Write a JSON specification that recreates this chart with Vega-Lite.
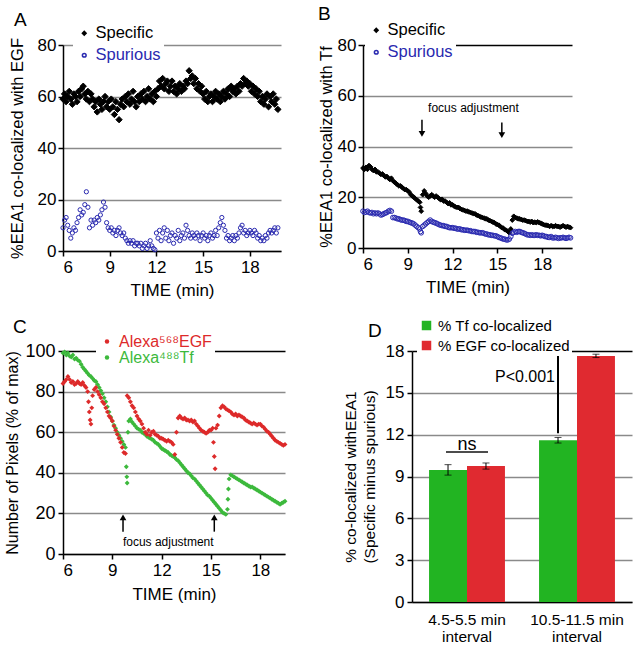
{
"$schema": "https://vega.github.io/schema/vega-lite/v6.json",
"padding": {"left": 4, "top": 5, "right": 5, "bottom": 5},
"background": "white",
"config": {
  "font": "Liberation Sans",
  "view": {"stroke": null},
  "axis": {"domainColor": "black", "domainWidth": 1.5, "tickColor": "black", "tickWidth": 1.5, "tickSize": 5, "labelFontSize": 17, "labelColor": "black", "titleFontSize": 17, "titleFontWeight": "normal", "titleColor": "black", "gridColor": "#8a8a8a", "gridWidth": 1.3, "labelPadding": 3, "titlePadding": 9, "labelFont": "Liberation Sans", "titleFont": "Liberation Sans"},
  "title": {"fontSize": 19, "fontWeight": "normal", "anchor": "start", "frame": "bounds", "color": "black", "font": "Liberation Sans"},
  "legend": {"labelFont": "Liberation Sans", "labelLimit": 300}
},
"columns": 1,
"align": "none",
"spacing": 18,
"resolve": {"scale": {"color": "independent", "fill": "independent", "stroke": "independent", "shape": "independent"}, "legend": {"color": "independent", "fill": "independent", "stroke": "independent", "shape": "independent"}},
"datasets": {
"A": [
{"t":6.0,"Specific":59,"Spurious":9},{"t":6.1,"Specific":61,"Spurious":12},{"t":6.2,"Specific":58,"Spurious":13},{"t":6.3,"Specific":60,"Spurious":10},{"t":6.4,"Specific":62,"Spurious":8},{"t":6.5,"Specific":59,"Spurious":5},{"t":6.6,"Specific":57,"Spurious":7},{"t":6.7,"Specific":61,"Spurious":9},{"t":6.8,"Specific":60,"Spurious":8},{"t":6.9,"Specific":58,"Spurious":11},
{"t":7.0,"Specific":62,"Spurious":13},{"t":7.1,"Specific":60,"Spurious":16},{"t":7.2,"Specific":63,"Spurious":14},{"t":7.3,"Specific":64,"Spurious":15},{"t":7.4,"Specific":61,"Spurious":18},{"t":7.5,"Specific":59,"Spurious":23},{"t":7.6,"Specific":62,"Spurious":17},{"t":7.7,"Specific":58,"Spurious":9},{"t":7.8,"Specific":61,"Spurious":12},{"t":7.9,"Specific":59,"Spurious":10},
{"t":8.0,"Specific":56,"Spurious":12},{"t":8.1,"Specific":58,"Spurious":11},{"t":8.2,"Specific":54,"Spurious":13},{"t":8.3,"Specific":59,"Spurious":12},{"t":8.4,"Specific":57,"Spurious":14},{"t":8.5,"Specific":55,"Spurious":16},{"t":8.6,"Specific":58,"Spurious":19},{"t":8.7,"Specific":60,"Spurious":17},{"t":8.8,"Specific":56,"Spurious":11},{"t":8.9,"Specific":58,"Spurious":9},
{"t":9.0,"Specific":55,"Spurious":8},{"t":9.1,"Specific":59,"Spurious":9},{"t":9.2,"Specific":56,"Spurious":7},{"t":9.3,"Specific":53,"Spurious":8},{"t":9.4,"Specific":58,"Spurious":6},{"t":9.5,"Specific":55,"Spurious":8},{"t":9.6,"Specific":51,"Spurious":9},{"t":9.7,"Specific":57,"Spurious":7},{"t":9.8,"Specific":59,"Spurious":6},{"t":9.9,"Specific":56,"Spurious":7},
{"t":10.0,"Specific":60,"Spurious":5},{"t":10.1,"Specific":58,"Spurious":4},{"t":10.2,"Specific":61,"Spurious":3},{"t":10.3,"Specific":57,"Spurious":4},{"t":10.4,"Specific":59,"Spurious":3},{"t":10.5,"Specific":62,"Spurious":4},{"t":10.6,"Specific":58,"Spurious":2},{"t":10.7,"Specific":56,"Spurious":3},{"t":10.8,"Specific":60,"Spurious":3},{"t":10.9,"Specific":58,"Spurious":2},
{"t":11.0,"Specific":61,"Spurious":3},{"t":11.1,"Specific":59,"Spurious":1},{"t":11.2,"Specific":62,"Spurious":2},{"t":11.3,"Specific":58,"Spurious":3},{"t":11.4,"Specific":60,"Spurious":1},{"t":11.5,"Specific":63,"Spurious":2},{"t":11.6,"Specific":59,"Spurious":4},{"t":11.7,"Specific":61,"Spurious":2},{"t":11.8,"Specific":58,"Spurious":1},{"t":11.9,"Specific":62,"Spurious":0.5},
{"t":12.0,"Specific":60,"Spurious":7},{"t":12.1,"Specific":63,"Spurious":5},{"t":12.2,"Specific":66,"Spurious":8},{"t":12.3,"Specific":64,"Spurious":4},{"t":12.4,"Specific":67,"Spurious":7},{"t":12.5,"Specific":63,"Spurious":9},{"t":12.6,"Specific":65,"Spurious":5},{"t":12.7,"Specific":66,"Spurious":8},{"t":12.8,"Specific":62,"Spurious":4},{"t":12.9,"Specific":64,"Spurious":6},
{"t":13.0,"Specific":66,"Spurious":7},{"t":13.1,"Specific":62,"Spurious":3},{"t":13.2,"Specific":64,"Spurious":6},{"t":13.3,"Specific":61,"Spurious":5},{"t":13.4,"Specific":63,"Spurious":8},{"t":13.5,"Specific":65,"Spurious":4},{"t":13.6,"Specific":62,"Spurious":6},{"t":13.7,"Specific":64,"Spurious":7},{"t":13.8,"Specific":63,"Spurious":5},{"t":13.9,"Specific":66,"Spurious":10},
{"t":14.0,"Specific":65,"Spurious":8},{"t":14.1,"Specific":70,"Spurious":6},{"t":14.2,"Specific":67,"Spurious":5},{"t":14.3,"Specific":68,"Spurious":7},{"t":14.4,"Specific":65,"Spurious":6},{"t":14.5,"Specific":67,"Spurious":5},{"t":14.6,"Specific":63,"Spurious":7},{"t":14.7,"Specific":65,"Spurious":6},{"t":14.8,"Specific":62,"Spurious":4},{"t":14.9,"Specific":64,"Spurious":6},
{"t":15.0,"Specific":61,"Spurious":7},{"t":15.1,"Specific":59,"Spurious":5},{"t":15.2,"Specific":62,"Spurious":6},{"t":15.3,"Specific":58,"Spurious":4},{"t":15.4,"Specific":60,"Spurious":6},{"t":15.5,"Specific":61,"Spurious":7},{"t":15.6,"Specific":58,"Spurious":5},{"t":15.7,"Specific":60,"Spurious":6},{"t":15.8,"Specific":62,"Spurious":8},{"t":15.9,"Specific":59,"Spurious":6},
{"t":16.0,"Specific":61,"Spurious":9},{"t":16.1,"Specific":58,"Spurious":11},{"t":16.2,"Specific":60,"Spurious":13},{"t":16.3,"Specific":62,"Spurious":10},{"t":16.4,"Specific":59,"Spurious":8},{"t":16.5,"Specific":61,"Spurious":5},{"t":16.6,"Specific":63,"Spurious":6},{"t":16.7,"Specific":60,"Spurious":4},{"t":16.8,"Specific":64,"Spurious":5},{"t":16.9,"Specific":62,"Spurious":6},
{"t":17.0,"Specific":63,"Spurious":4},{"t":17.1,"Specific":61,"Spurious":6},{"t":17.2,"Specific":64,"Spurious":5},{"t":17.3,"Specific":62,"Spurious":7},{"t":17.4,"Specific":65,"Spurious":9},{"t":17.5,"Specific":64,"Spurious":10},{"t":17.6,"Specific":67,"Spurious":7},{"t":17.7,"Specific":65,"Spurious":8},{"t":17.8,"Specific":66,"Spurious":6},{"t":17.9,"Specific":64,"Spurious":7},
{"t":18.0,"Specific":65,"Spurious":8},{"t":18.1,"Specific":62,"Spurious":7},{"t":18.2,"Specific":64,"Spurious":6},{"t":18.3,"Specific":61,"Spurious":8},{"t":18.4,"Specific":63,"Spurious":7},{"t":18.5,"Specific":60,"Spurious":5},{"t":18.6,"Specific":62,"Spurious":6},{"t":18.7,"Specific":58,"Spurious":4},{"t":18.8,"Specific":60,"Spurious":5},{"t":18.9,"Specific":57,"Spurious":4},
{"t":19.0,"Specific":59,"Spurious":6},{"t":19.1,"Specific":61,"Spurious":5},{"t":19.2,"Specific":56,"Spurious":7},{"t":19.3,"Specific":60,"Spurious":8},{"t":19.4,"Specific":58,"Spurious":7},{"t":19.5,"Specific":61,"Spurious":8},{"t":19.6,"Specific":57,"Spurious":9},{"t":19.7,"Specific":59,"Spurious":7},{"t":19.8,"Specific":55,"Spurious":9}
],
"B": [
{"t":6.0,"Specific":31.5,"Spurious":14.5},{"t":6.1,"Specific":31,"Spurious":14},{"t":6.2,"Specific":31.8,"Spurious":14.2},{"t":6.3,"Specific":31,"Spurious":14.5},{"t":6.4,"Specific":32.5,"Spurious":14},{"t":6.5,"Specific":32,"Spurious":13.8},{"t":6.6,"Specific":31,"Spurious":14},{"t":6.7,"Specific":30.5,"Spurious":13.5},{"t":6.8,"Specific":31,"Spurious":13.8},{"t":6.9,"Specific":30,"Spurious":13.5},
{"t":7.0,"Specific":30,"Spurious":13.8},{"t":7.1,"Specific":29.5,"Spurious":13.5},{"t":7.2,"Specific":29,"Spurious":13},{"t":7.3,"Specific":29.2,"Spurious":13.2},{"t":7.4,"Specific":28.5,"Spurious":13.5},{"t":7.5,"Specific":28,"Spurious":13.8},{"t":7.6,"Specific":28.2,"Spurious":14},{"t":7.7,"Specific":27.5,"Spurious":14.5},{"t":7.8,"Specific":27,"Spurious":14.8},{"t":7.9,"Specific":27.5,"Spurious":14.5},
{"t":8.0,"Specific":26.5,"Spurious":12},{"t":8.1,"Specific":26,"Spurious":12},{"t":8.2,"Specific":25.5,"Spurious":11.8},{"t":8.3,"Specific":25,"Spurious":11.5},{"t":8.4,"Specific":24.5,"Spurious":11.5},{"t":8.5,"Specific":24.5,"Spurious":11.2},{"t":8.6,"Specific":24,"Spurious":11},{"t":8.7,"Specific":23.5,"Spurious":11},{"t":8.8,"Specific":23,"Spurious":10.8},{"t":8.9,"Specific":23,"Spurious":10.5},
{"t":9.0,"Specific":22.5,"Spurious":10.5},{"t":9.1,"Specific":22,"Spurious":10.2},{"t":9.2,"Specific":21,"Spurious":10},{"t":9.3,"Specific":20.5,"Spurious":9.8},{"t":9.4,"Specific":20,"Spurious":9.5},{"t":9.5,"Specific":19.5,"Spurious":9},{"t":9.6,"Specific":19,"Spurious":8.5},{"t":9.7,"Specific":18.5,"Spurious":8},{"t":9.8,"Specific":18,"Spurious":7.5},{"t":9.85,"Specific":16,"Spurious":6.5},{"t":9.9,"Specific":14.5,"Spurious":6},
{"t":10.0,"Specific":21,"Spurious":8.5},{"t":10.1,"Specific":22.5,"Spurious":9},{"t":10.2,"Specific":21.5,"Spurious":9.5},{"t":10.3,"Specific":20.5,"Spurious":10},{"t":10.4,"Specific":20,"Spurious":10.5},{"t":10.5,"Specific":20.5,"Spurious":11},{"t":10.6,"Specific":21,"Spurious":10.5},{"t":10.7,"Specific":20.5,"Spurious":10.2},{"t":10.8,"Specific":20,"Spurious":10},{"t":10.9,"Specific":20.5,"Spurious":9.8},
{"t":11.0,"Specific":20,"Spurious":9.5},{"t":11.1,"Specific":19.5,"Spurious":9.2},{"t":11.2,"Specific":19,"Spurious":9},{"t":11.3,"Specific":19.2,"Spurious":8.8},{"t":11.4,"Specific":18.5,"Spurious":8.8},{"t":11.5,"Specific":18.5,"Spurious":8.5},{"t":11.6,"Specific":18,"Spurious":8.5},{"t":11.7,"Specific":17.5,"Spurious":8.2},{"t":11.8,"Specific":17.8,"Spurious":8},{"t":11.9,"Specific":17,"Spurious":8},
{"t":12.0,"Specific":17,"Spurious":8},{"t":12.1,"Specific":16.5,"Spurious":7.8},{"t":12.2,"Specific":16.2,"Spurious":7.8},{"t":12.3,"Specific":16,"Spurious":7.5},{"t":12.4,"Specific":16,"Spurious":7.5},{"t":12.5,"Specific":15.5,"Spurious":7.5},{"t":12.6,"Specific":15.2,"Spurious":7.2},{"t":12.7,"Specific":15,"Spurious":7.2},{"t":12.8,"Specific":14.8,"Spurious":7},{"t":12.9,"Specific":14.5,"Spurious":7},
{"t":13.0,"Specific":14.5,"Spurious":7},{"t":13.1,"Specific":14.2,"Spurious":6.8},{"t":13.2,"Specific":14,"Spurious":6.8},{"t":13.3,"Specific":13.8,"Spurious":6.5},{"t":13.4,"Specific":13.5,"Spurious":6.5},{"t":13.5,"Specific":13.5,"Spurious":6.5},{"t":13.6,"Specific":13,"Spurious":6.2},{"t":13.7,"Specific":12.8,"Spurious":6.2},{"t":13.8,"Specific":12.5,"Spurious":6},{"t":13.9,"Specific":12.2,"Spurious":6},
{"t":14.0,"Specific":12,"Spurious":6},{"t":14.1,"Specific":11.8,"Spurious":5.8},{"t":14.2,"Specific":11.5,"Spurious":5.5},{"t":14.3,"Specific":11.5,"Spurious":5.5},{"t":14.4,"Specific":11,"Spurious":5.2},{"t":14.5,"Specific":10.8,"Spurious":5.2},{"t":14.6,"Specific":10.5,"Spurious":5},{"t":14.7,"Specific":10.2,"Spurious":5},{"t":14.8,"Specific":10,"Spurious":4.8},{"t":14.9,"Specific":9.5,"Spurious":4.8},
{"t":15.0,"Specific":9.2,"Spurious":4.5},{"t":15.1,"Specific":9,"Spurious":4.2},{"t":15.2,"Specific":8.5,"Spurious":4},{"t":15.3,"Specific":8,"Spurious":3.8},{"t":15.4,"Specific":7.8,"Spurious":3.5},{"t":15.5,"Specific":7.2,"Spurious":3.5},{"t":15.6,"Specific":7,"Spurious":3.2},{"t":15.7,"Specific":6.5,"Spurious":3.2},{"t":15.8,"Specific":6,"Spurious":3.5},{"t":15.9,"Specific":7.5,"Spurious":4.5},
{"t":16.0,"Specific":11,"Spurious":5.8},{"t":16.1,"Specific":12.5,"Spurious":6.2},{"t":16.2,"Specific":12,"Spurious":6.5},{"t":16.3,"Specific":11.8,"Spurious":6.2},{"t":16.4,"Specific":11.5,"Spurious":6.5},{"t":16.5,"Specific":11.5,"Spurious":6.5},{"t":16.6,"Specific":11.2,"Spurious":6.2},{"t":16.7,"Specific":11,"Spurious":6},{"t":16.8,"Specific":11,"Spurious":5.8},{"t":16.9,"Specific":10.8,"Spurious":5.5},
{"t":17.0,"Specific":10.5,"Spurious":5.2},{"t":17.1,"Specific":10.5,"Spurious":5.2},{"t":17.2,"Specific":10.2,"Spurious":5},{"t":17.3,"Specific":10.5,"Spurious":5.2},{"t":17.4,"Specific":10,"Spurious":5},{"t":17.5,"Specific":10.2,"Spurious":5},{"t":17.6,"Specific":10,"Spurious":5.2},{"t":17.7,"Specific":10.3,"Spurious":5},{"t":17.8,"Specific":10,"Spurious":5},{"t":17.9,"Specific":9.8,"Spurious":4.8},
{"t":18.0,"Specific":9.5,"Spurious":5},{"t":18.1,"Specific":9.2,"Spurious":4.8},{"t":18.2,"Specific":9,"Spurious":4.5},{"t":18.3,"Specific":9,"Spurious":4.5},{"t":18.4,"Specific":8.8,"Spurious":4.2},{"t":18.5,"Specific":8.5,"Spurious":4.2},{"t":18.6,"Specific":8.8,"Spurious":4.5},{"t":18.7,"Specific":8.5,"Spurious":4},{"t":18.8,"Specific":8.5,"Spurious":4},{"t":18.9,"Specific":8.8,"Spurious":4.2},
{"t":19.0,"Specific":8.5,"Spurious":4},{"t":19.1,"Specific":8.5,"Spurious":3.8},{"t":19.2,"Specific":8.2,"Spurious":4},{"t":19.3,"Specific":8.5,"Spurious":4},{"t":19.4,"Specific":8.8,"Spurious":4.2},{"t":19.5,"Specific":8.5,"Spurious":4},{"t":19.6,"Specific":8.2,"Spurious":3.8},{"t":19.7,"Specific":8.5,"Spurious":4},{"t":19.8,"Specific":8.2,"Spurious":4.2},{"t":19.9,"Specific":8,"Spurious":4}
],
"Cg": [
{"t":6.0,"v":99},{"t":6.1,"v":99.5},{"t":6.2,"v":98},{"t":6.3,"v":99},{"t":6.4,"v":97.5},{"t":6.5,"v":97},{"t":6.6,"v":98},{"t":6.7,"v":96},{"t":6.8,"v":96.5},{"t":6.9,"v":95.5},
{"t":7.0,"v":95},{"t":7.1,"v":93.5},{"t":7.2,"v":92},{"t":7.3,"v":91},{"t":7.4,"v":90},{"t":7.5,"v":89},{"t":7.6,"v":88},{"t":7.7,"v":87.5},{"t":7.8,"v":86.5},{"t":7.9,"v":85.5},
{"t":8.0,"v":85},{"t":8.1,"v":83.5},{"t":8.2,"v":82},{"t":8.3,"v":80.5},{"t":8.4,"v":79},{"t":8.5,"v":77},{"t":8.6,"v":75},{"t":8.7,"v":72.5},{"t":8.8,"v":70},{"t":8.9,"v":67.5},
{"t":9.0,"v":65.5},{"t":9.1,"v":63.5},{"t":9.2,"v":62},{"t":9.3,"v":60},{"t":9.4,"v":58.5},{"t":9.5,"v":57},{"t":9.6,"v":55.5},{"t":9.7,"v":54},{"t":9.8,"v":52.5},{"t":9.85,"v":43},{"t":9.88,"v":38},{"t":9.9,"v":35},{"t":9.95,"v":60},
{"t":10.0,"v":65.5},{"t":10.1,"v":66.5},{"t":10.2,"v":65},{"t":10.3,"v":64},{"t":10.4,"v":63},{"t":10.5,"v":62},{"t":10.6,"v":61.5},{"t":10.7,"v":61},{"t":10.8,"v":60},{"t":10.9,"v":59.5},
{"t":11.0,"v":59},{"t":11.1,"v":58},{"t":11.2,"v":57.5},{"t":11.3,"v":57},{"t":11.4,"v":56.5},{"t":11.5,"v":56},{"t":11.6,"v":55},{"t":11.7,"v":54.5},{"t":11.8,"v":54},{"t":11.9,"v":53},
{"t":12.0,"v":52},{"t":12.1,"v":51.5},{"t":12.2,"v":51},{"t":12.3,"v":50.5},{"t":12.4,"v":50},{"t":12.5,"v":49},{"t":12.6,"v":48.5},{"t":12.7,"v":48},{"t":12.8,"v":47.5},{"t":12.9,"v":46.5},
{"t":13.0,"v":46},{"t":13.1,"v":45},{"t":13.2,"v":44},{"t":13.3,"v":43},{"t":13.4,"v":42},{"t":13.5,"v":41},{"t":13.6,"v":40},{"t":13.7,"v":39.5},{"t":13.8,"v":38.5},{"t":13.9,"v":37.5},
{"t":14.0,"v":37},{"t":14.1,"v":36},{"t":14.2,"v":35},{"t":14.3,"v":34},{"t":14.4,"v":33},{"t":14.5,"v":32},{"t":14.6,"v":31},{"t":14.7,"v":30},{"t":14.8,"v":29},{"t":14.9,"v":28.5},
{"t":15.0,"v":27.5},{"t":15.1,"v":26.5},{"t":15.2,"v":25.5},{"t":15.3,"v":24.5},{"t":15.4,"v":23.5},{"t":15.5,"v":22.5},{"t":15.6,"v":21.5},{"t":15.7,"v":20.5},{"t":15.8,"v":20},{"t":15.9,"v":19.5},
{"t":16.0,"v":22},{"t":16.03,"v":27},{"t":16.06,"v":32},{"t":16.1,"v":37},{"t":16.2,"v":39},{"t":16.3,"v":38.5},{"t":16.4,"v":38},{"t":16.5,"v":37.5},{"t":16.6,"v":37},{"t":16.7,"v":36.5},{"t":16.8,"v":36},{"t":16.9,"v":35.5},
{"t":17.0,"v":35},{"t":17.1,"v":34.5},{"t":17.2,"v":34},{"t":17.3,"v":33.5},{"t":17.4,"v":33},{"t":17.5,"v":33},{"t":17.6,"v":32.5},{"t":17.7,"v":32},{"t":17.8,"v":31.5},{"t":17.9,"v":31},
{"t":18.0,"v":30.5},{"t":18.1,"v":30},{"t":18.2,"v":29.5},{"t":18.3,"v":29},{"t":18.4,"v":28.5},{"t":18.5,"v":28},{"t":18.6,"v":27.5},{"t":18.7,"v":27},{"t":18.8,"v":26.5},{"t":18.9,"v":26},
{"t":19.0,"v":25.5},{"t":19.1,"v":25},{"t":19.2,"v":24.5},{"t":19.3,"v":25},{"t":19.4,"v":25.5},{"t":19.5,"v":26}
],
"Cr": [
{"t":6.0,"v":84},{"t":6.1,"v":85},{"t":6.2,"v":86},{"t":6.3,"v":87.5},{"t":6.4,"v":86},{"t":6.5,"v":84.5},{"t":6.6,"v":85},{"t":6.7,"v":83.5},{"t":6.8,"v":84},{"t":6.9,"v":85},
{"t":7.0,"v":84},{"t":7.1,"v":83.5},{"t":7.2,"v":84.5},{"t":7.3,"v":83},{"t":7.4,"v":82},{"t":7.5,"v":80},{"t":7.55,"v":75},{"t":7.6,"v":70},{"t":7.65,"v":66},{"t":7.7,"v":64},{"t":7.75,"v":72},{"t":7.8,"v":78},{"t":7.9,"v":81},
{"t":8.0,"v":82},{"t":8.1,"v":80},{"t":8.2,"v":78.5},{"t":8.3,"v":77},{"t":8.4,"v":75},{"t":8.5,"v":74},{"t":8.6,"v":72},{"t":8.7,"v":70},{"t":8.8,"v":68},{"t":8.9,"v":67},
{"t":9.0,"v":65.5},{"t":9.1,"v":63},{"t":9.2,"v":61},{"t":9.3,"v":59},{"t":9.4,"v":57},{"t":9.5,"v":55},{"t":9.6,"v":52.5},{"t":9.7,"v":50},{"t":9.8,"v":49.5},{"t":9.9,"v":78},
{"t":10.0,"v":77},{"t":10.1,"v":75},{"t":10.2,"v":73},{"t":10.3,"v":72},{"t":10.4,"v":70},{"t":10.5,"v":68},{"t":10.6,"v":66.5},{"t":10.7,"v":65.5},{"t":10.8,"v":64},{"t":10.9,"v":62},
{"t":11.0,"v":60},{"t":11.1,"v":59},{"t":11.2,"v":61},{"t":11.3,"v":58.5},{"t":11.4,"v":60},{"t":11.5,"v":60.5},{"t":11.6,"v":59},{"t":11.7,"v":58.5},{"t":11.8,"v":58},{"t":11.9,"v":57},
{"t":12.0,"v":57},{"t":12.1,"v":56.5},{"t":12.2,"v":56},{"t":12.3,"v":55.5},{"t":12.4,"v":56},{"t":12.5,"v":55.5},{"t":12.6,"v":55},{"t":12.7,"v":54},{"t":12.8,"v":49},{"t":12.9,"v":60},
{"t":13.0,"v":67},{"t":13.1,"v":68},{"t":13.2,"v":67},{"t":13.3,"v":66.5},{"t":13.4,"v":67},{"t":13.5,"v":66},{"t":13.6,"v":66},{"t":13.7,"v":65.5},{"t":13.8,"v":66},{"t":13.9,"v":65},
{"t":14.0,"v":65.5},{"t":14.1,"v":64},{"t":14.2,"v":63},{"t":14.3,"v":62},{"t":14.4,"v":61},{"t":14.5,"v":60.5},{"t":14.6,"v":60},{"t":14.7,"v":59.5},{"t":14.8,"v":60},{"t":14.9,"v":61},
{"t":15.0,"v":61},{"t":15.1,"v":62},{"t":15.15,"v":55},{"t":15.2,"v":48},{"t":15.25,"v":42},{"t":15.3,"v":62},{"t":15.4,"v":63.5},{"t":15.5,"v":68},{"t":15.6,"v":72},{"t":15.7,"v":73},
{"t":15.8,"v":72.5},{"t":15.9,"v":71.5},{"t":16.0,"v":71},{"t":16.1,"v":70.5},{"t":16.2,"v":70},{"t":16.3,"v":69},{"t":16.4,"v":68.5},{"t":16.5,"v":69},{"t":16.6,"v":68},{"t":16.7,"v":68.5},{"t":16.8,"v":68},{"t":16.9,"v":67.5},
{"t":17.0,"v":67},{"t":17.1,"v":66},{"t":17.2,"v":65.5},{"t":17.3,"v":65},{"t":17.4,"v":64.5},{"t":17.5,"v":64},{"t":17.6,"v":64.5},{"t":17.7,"v":64},{"t":17.8,"v":63.5},{"t":17.9,"v":64},
{"t":18.0,"v":64},{"t":18.1,"v":63},{"t":18.2,"v":62.5},{"t":18.3,"v":61.5},{"t":18.4,"v":60.5},{"t":18.5,"v":60},{"t":18.6,"v":59},{"t":18.7,"v":58},{"t":18.8,"v":57},{"t":18.9,"v":56},
{"t":19.0,"v":55.5},{"t":19.1,"v":55},{"t":19.2,"v":54.5},{"t":19.3,"v":54},{"t":19.4,"v":53.5},{"t":19.5,"v":54}
],
"D": [
{"interval":"4.5-5.5 min interval","series":"% Tf co-localized","v":9.47,"lo":9.1,"hi":9.85},
{"interval":"4.5-5.5 min interval","series":"% EGF co-localized","v":9.75,"lo":9.53,"hi":9.97},
{"interval":"10.5-11.5 min interval","series":"% Tf co-localized","v":11.6,"lo":11.4,"hi":11.8},
{"interval":"10.5-11.5 min interval","series":"% EGF co-localized","v":17.65,"lo":17.53,"hi":17.77}
]
},
"concat": [
{
"resolve": {"scale": {"color": "independent", "fill": "independent", "stroke": "independent", "shape": "independent"}, "legend": {"color": "independent", "fill": "independent", "stroke": "independent", "shape": "independent"}},
"hconcat": [
{
"width": 218, "height": 206,
"title": {"text": "A", "offset": -8, "dx": 5},
"data": {"name": "A"},
"transform": [{"fold": ["Specific", "Spurious"], "as": ["series", "v"]}],
"encoding": {
  "x": {"field": "t", "type": "quantitative", "scale": {"domain": [6, 20], "nice": false}, "axis": {"values": [6, 9, 12, 15, 18], "title": "TIME (min)", "grid": false, "titlePadding": 7}},
  "y": {"field": "v", "type": "quantitative", "scale": {"domain": [0, 80]}, "axis": {"values": [0, 20, 40, 60, 80], "title": "%EEA1 co-localized with EGF", "titleFontSize": 16.5, "titlePadding": 12, "labelPadding": 2, "grid": true}},
  "shape": {"field": "series", "type": "nominal", "scale": {"domain": ["Specific", "Spurious"], "range": ["diamond", "circle"]}, "legend": {"orient": "none", "legendX": 10, "legendY": -23, "title": null, "labelFontSize": 16.5, "labelOffset": 3, "symbolSize": 14, "rowPadding": 5, "fillColor": "white", "padding": 3, "labelColor": {"expr": "datum.value === 'Spurious' ? '#2a2ab0' : 'black'"}}},
  "fill": {"field": "series", "type": "nominal", "scale": {"domain": ["Specific", "Spurious"], "range": ["black", "transparent"]}, "legend": {"orient": "none", "legendX": 10, "legendY": -23, "title": null, "labelFontSize": 16.5, "labelOffset": 3, "symbolSize": 14, "rowPadding": 5, "fillColor": "white", "padding": 3, "labelColor": {"expr": "datum.value === 'Spurious' ? '#2a2ab0' : 'black'"}}},
  "stroke": {"field": "series", "type": "nominal", "scale": {"domain": ["Specific", "Spurious"], "range": ["black", "#2a2ab0"]}, "legend": {"orient": "none", "legendX": 10, "legendY": -23, "title": null, "labelFontSize": 16.5, "labelOffset": 3, "symbolSize": 14, "rowPadding": 5, "fillColor": "white", "padding": 3, "labelColor": {"expr": "datum.value === 'Spurious' ? '#2a2ab0' : 'black'"}}}
},
"layer": [
{"transform": [{"filter": "datum.series === 'Specific'"}], "mark": {"type": "point", "size": 40, "strokeWidth": 1, "opacity": 1}},
{"transform": [{"filter": "datum.series === 'Spurious'"}], "mark": {"type": "point", "size": 18, "strokeWidth": 1, "opacity": 1}}
]
},
{
"width": 209, "height": 203,
"title": {"text": "B", "offset": -5},
"layer": [
{
"data": {"name": "B"},
"transform": [{"fold": ["Specific", "Spurious"], "as": ["series", "v"]}],
"mark": {"type": "point", "size": 22, "strokeWidth": 1, "opacity": 1},
"encoding": {
  "x": {"field": "t", "type": "quantitative", "scale": {"domain": [6, 20], "nice": false}, "axis": {"values": [6, 9, 12, 15, 18], "title": "TIME (min)", "grid": false, "titlePadding": 7}},
  "y": {"field": "v", "type": "quantitative", "scale": {"domain": [0, 80]}, "axis": {"values": [0, 20, 40, 60, 80], "title": "%EEA1 co-localized with Tf", "titleFontSize": 16.5, "titlePadding": 3, "labelPadding": 2, "grid": true, "gridColor": {"condition": {"test": "datum.value === 80", "value": "black"}, "value": "#8a8a8a"}}},
  "shape": {"field": "series", "type": "nominal", "scale": {"domain": ["Specific", "Spurious"], "range": ["diamond", "circle"]}, "legend": {"orient": "none", "legendX": 2, "legendY": -26, "title": null, "labelFontSize": 16.5, "labelOffset": 3, "symbolSize": 14, "rowPadding": 5, "fillColor": "white", "padding": 3, "labelColor": {"expr": "datum.value === 'Spurious' ? '#2a2ab0' : 'black'"}}},
  "fill": {"field": "series", "type": "nominal", "scale": {"domain": ["Specific", "Spurious"], "range": ["black", "transparent"]}, "legend": {"orient": "none", "legendX": 2, "legendY": -26, "title": null, "labelFontSize": 16.5, "labelOffset": 3, "symbolSize": 14, "rowPadding": 5, "fillColor": "white", "padding": 3, "labelColor": {"expr": "datum.value === 'Spurious' ? '#2a2ab0' : 'black'"}}},
  "stroke": {"field": "series", "type": "nominal", "scale": {"domain": ["Specific", "Spurious"], "range": ["black", "#2a2ab0"]}, "legend": {"orient": "none", "legendX": 2, "legendY": -26, "title": null, "labelFontSize": 16.5, "labelOffset": 3, "symbolSize": 14, "rowPadding": 5, "fillColor": "white", "padding": 3, "labelColor": {"expr": "datum.value === 'Spurious' ? '#2a2ab0' : 'black'"}}}
}
},
{
"data": {"values": [{"t": 9.95, "y1": 50.5, "y2": 45}, {"t": 15.3, "y1": 49.5, "y2": 44.5}]},
"mark": {"type": "rule", "color": "black", "strokeWidth": 1.5},
"encoding": {"x": {"field": "t", "type": "quantitative"}, "y": {"field": "y1", "type": "quantitative"}, "y2": {"field": "y2"}}
},
{
"data": {"values": [{"t": 9.95, "y2": 45}, {"t": 15.3, "y2": 44.5}]},
"mark": {"type": "point", "shape": "triangle-down", "filled": true, "color": "black", "size": 45, "opacity": 1},
"encoding": {"x": {"field": "t", "type": "quantitative"}, "y": {"field": "y2", "type": "quantitative"}}
},
{
"data": {"values": [{"t": 13.4, "y": 55, "label": "focus adjustment"}]},
"mark": {"type": "text", "fontSize": 12, "color": "black"},
"encoding": {"x": {"field": "t", "type": "quantitative"}, "y": {"field": "y", "type": "quantitative"}, "text": {"field": "label"}}
}
]
}
],
"spacing": 34
},
{
"resolve": {"scale": {"color": "independent", "fill": "independent", "stroke": "independent", "shape": "independent"}, "legend": {"color": "independent", "fill": "independent", "stroke": "independent", "shape": "independent"}},
"hconcat": [
{
"width": 222, "height": 203,
"title": {"text": "C", "offset": -6, "dx": 8},
"layer": [
{
"data": {"name": "Cg"},
"mark": {"type": "point", "filled": true, "shape": "diamond", "size": 24, "opacity": 1},
"encoding": {
  "x": {"field": "t", "type": "quantitative", "scale": {"domain": [6, 19.5], "nice": false}, "axis": {"values": [6, 9, 12, 15, 18], "title": "TIME (min)", "grid": false, "titlePadding": 8}},
  "y": {"field": "v", "type": "quantitative", "scale": {"domain": [0, 100]}, "axis": {"values": [0, 20, 40, 60, 80, 100], "title": "Number of Pixels (% of max)", "titleFontSize": 16, "labelFontSize": 18, "titlePadding": 4, "grid": true, "gridColor": {"condition": {"test": "datum.value === 100", "value": "black"}, "value": "#8a8a8a"}}},
  "color": {"datum": "Alexa⁴⁸⁸Tf", "type": "nominal", "scale": {"domain": ["Alexa⁵⁶⁸EGF", "Alexa⁴⁸⁸Tf"], "range": ["#dd2a2a", "#3cb93c"]}, "legend": {"orient": "none", "legendX": 33, "legendY": -20.5, "title": null, "symbolType": "circle", "symbolSize": 20, "labelFontSize": 16, "rowPadding": 0, "fillColor": "white", "padding": 3, "labelColor": {"expr": "indexof(datum.value, 'EGF') >= 0 ? '#dd2a2a' : '#3cb93c'"}}}
}
},
{
"data": {"name": "Cr"},
"mark": {"type": "point", "filled": true, "shape": "diamond", "size": 24, "opacity": 1},
"encoding": {
  "x": {"field": "t", "type": "quantitative"},
  "y": {"field": "v", "type": "quantitative"},
  "color": {"datum": "Alexa⁵⁶⁸EGF", "type": "nominal"}
}
},
{
"data": {"values": [{"t": 9.65, "y1": 11, "y2": 18}, {"t": 15.2, "y1": 11, "y2": 18}]},
"mark": {"type": "rule", "color": "black", "strokeWidth": 1.5},
"encoding": {"x": {"field": "t", "type": "quantitative"}, "y": {"field": "y1", "type": "quantitative"}, "y2": {"field": "y2"}}
},
{
"data": {"values": [{"t": 9.65, "y2": 18}, {"t": 15.2, "y2": 18}]},
"mark": {"type": "point", "shape": "triangle-up", "filled": true, "color": "black", "size": 45, "opacity": 1},
"encoding": {"x": {"field": "t", "type": "quantitative"}, "y": {"field": "y2", "type": "quantitative"}}
},
{
"data": {"values": [{"t": 12.4, "y": 6.0, "label": "focus adjustment"}]},
"mark": {"type": "text", "fontSize": 12, "color": "black"},
"encoding": {"x": {"field": "t", "type": "quantitative"}, "y": {"field": "y", "type": "quantitative"}, "text": {"field": "label"}}
}
]
},
{
"width": 220, "height": 251,
"title": {"text": "D", "offset": -25, "dx": 25},
"data": {"name": "D"},
"layer": [
{
"mark": {"type": "bar"},
"encoding": {
  "x": {"field": "interval", "type": "nominal", "scale": {"domain": ["4.5-5.5 min interval", "10.5-11.5 min interval"], "paddingInner": 0.31, "paddingOuter": 0.155}, "axis": {"title": null, "labelAngle": 0, "ticks": false, "labelFontSize": 15.5, "labelExpr": "[replace(datum.label, ' interval', ''), 'interval']", "labelLineHeight": 17, "labelPadding": 10}},
  "xOffset": {"field": "series", "type": "nominal", "scale": {"domain": ["% Tf co-localized", "% EGF co-localized"]}},
  "y": {"field": "v", "type": "quantitative", "scale": {"domain": [0, 18]}, "axis": {"values": [0, 3, 6, 9, 12, 15, 18], "grid": true, "gridColor": {"condition": {"test": "datum.value === 18", "value": "black"}, "value": "#8a8a8a"}, "title": ["% co-localized withEEA1", "(Specific minus spurious)"], "titleFontSize": 15.5, "titleLineHeight": 19, "titlePadding": 8, "labelPadding": 3}},
  "color": {"field": "series", "type": "nominal", "scale": {"domain": ["% Tf co-localized", "% EGF co-localized"], "range": ["#22b422", "#e02a30"]}, "legend": {"orient": "none", "legendX": 5, "legendY": -35, "title": null, "symbolType": "square", "symbolSize": 90, "symbolStrokeWidth": 0, "labelFontSize": 15, "rowPadding": 4, "fillColor": "white", "padding": 2}}
}
},
{
"mark": {"type": "rule", "color": "black", "strokeWidth": 1},
"encoding": {"x": {"field": "interval", "type": "nominal"}, "xOffset": {"field": "series", "type": "nominal"}, "y": {"field": "lo", "type": "quantitative"}, "y2": {"field": "hi"}}
},
{
"mark": {"type": "tick", "color": "black", "size": 7, "thickness": 1},
"encoding": {"x": {"field": "interval", "type": "nominal"}, "xOffset": {"field": "series", "type": "nominal"}, "y": {"field": "lo", "type": "quantitative"}}
},
{
"mark": {"type": "tick", "color": "black", "size": 7, "thickness": 1},
"encoding": {"x": {"field": "interval", "type": "nominal"}, "xOffset": {"field": "series", "type": "nominal"}, "y": {"field": "hi", "type": "quantitative"}}
},
{
"data": {"values": [{"interval": "4.5-5.5 min interval", "y": 10.75}]},
"mark": {"type": "tick", "color": "black", "size": 42, "thickness": 2},
"encoding": {"x": {"field": "interval", "type": "nominal"}, "y": {"field": "y", "type": "quantitative"}}
},
{
"data": {"values": [{"interval": "4.5-5.5 min interval", "y": 10.85, "label": "ns"}]},
"mark": {"type": "text", "fontSize": 18, "baseline": "alphabetic", "dy": -1, "color": "black"},
"encoding": {"x": {"field": "interval", "type": "nominal"}, "y": {"field": "y", "type": "quantitative"}, "text": {"field": "label"}}
},
{
"data": {"values": [{"interval": "10.5-11.5 min interval", "series": "% Tf co-localized", "y": 12.1, "y2": 18}]},
"mark": {"type": "rule", "color": "black", "strokeWidth": 2},
"encoding": {"x": {"field": "interval", "type": "nominal"}, "xOffset": {"field": "series", "type": "nominal"}, "y": {"field": "y", "type": "quantitative"}, "y2": {"field": "y2"}}
},
{
"data": {"values": [{"interval": "10.5-11.5 min interval", "series": "% Tf co-localized", "y": 16.1, "label": "P<0.001"}]},
"mark": {"type": "text", "fontSize": 16, "align": "right", "dx": -3, "color": "black"},
"encoding": {"x": {"field": "interval", "type": "nominal"}, "xOffset": {"field": "series", "type": "nominal"}, "y": {"field": "y", "type": "quantitative"}, "text": {"field": "label"}}
}
]
}
],
"spacing": 55
}
]
}
